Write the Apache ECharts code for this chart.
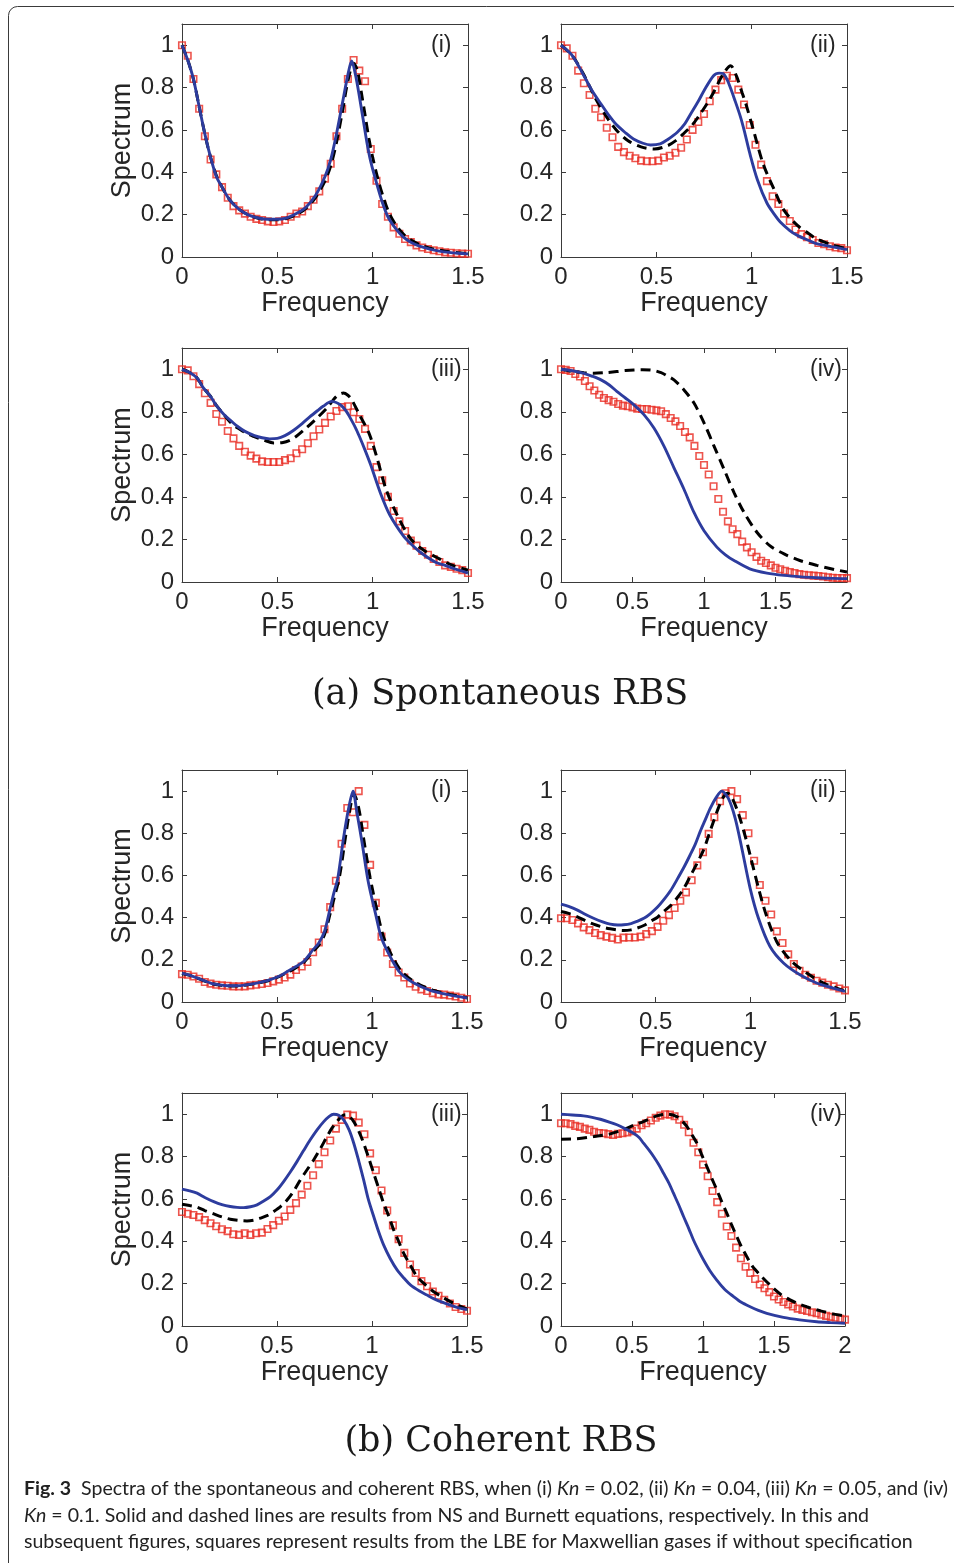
<!DOCTYPE html>
<html><head><meta charset="utf-8">
<script src="https://cdn.jsdelivr.net/npm/echarts@6/dist/echarts.min.js"></script>
<style>html,body{margin:0;padding:0;background:#fff;}#c{width:954px;height:1563px;}</style>
</head><body><div id="c"></div>
<script>
// ---------- data ----------
const panelLabels = ['(i)','(ii)','(iii)','(iv)','(i)','(ii)','(iii)','(iv)'];
const xTicks15 = [0,0.5,1,1.5];
const xTicks20 = [0,0.5,1,1.5,2];
const yTicks = [0,0.2,0.4,0.6,0.8,1];

const sqX15 = [0,0.03,0.06,0.09,0.12,0.15,0.18,0.21,0.24,0.27,0.3,0.33,0.36,0.39,0.42,0.45,0.48,0.51,0.54,0.57,0.6,0.63,0.66,0.69,0.72,0.75,0.78,0.81,0.84,0.87,0.9,0.93,0.96,0.99,1.02,1.05,1.08,1.11,1.14,1.17,1.2,1.23,1.26,1.29,1.32,1.35,1.38,1.41,1.44,1.47,1.5];
const sqX20 = [0,0.033,0.067,0.1,0.133,0.167,0.2,0.233,0.267,0.3,0.333,0.367,0.4,0.433,0.467,0.5,0.533,0.567,0.6,0.633,0.667,0.7,0.733,0.767,0.8,0.833,0.867,0.9,0.933,0.967,1,1.033,1.067,1.1,1.133,1.167,1.2,1.233,1.267,1.3,1.333,1.367,1.4,1.433,1.467,1.5,1.533,1.567,1.6,1.633,1.667,1.7,1.733,1.767,1.8,1.833,1.867,1.9,1.933,1.967,2];

// (a) Spontaneous RBS
const a1_lbe = [1.0,0.95,0.84,0.70,0.57,0.46,0.39,0.33,0.28,0.24,0.22,0.205,0.19,0.18,0.175,0.168,0.165,0.168,0.175,0.19,0.205,0.215,0.24,0.27,0.31,0.37,0.44,0.57,0.70,0.84,0.93,0.88,0.83,0.51,0.36,0.25,0.19,0.14,0.11,0.085,0.07,0.055,0.045,0.038,0.032,0.027,0.022,0.02,0.018,0.016,0.015];
const a1_ns = [[0,1],[0.03,0.93],[0.06,0.84],[0.09,0.71],[0.12,0.58],[0.15,0.47],[0.18,0.38],[0.21,0.33],[0.25,0.27],[0.3,0.225],[0.35,0.198],[0.4,0.184],[0.45,0.178],[0.5,0.178],[0.55,0.185],[0.6,0.205],[0.65,0.235],[0.7,0.29],[0.75,0.38],[0.78,0.46],[0.81,0.58],[0.84,0.72],[0.87,0.86],[0.89,0.925],[0.91,0.86],[0.93,0.76],[0.95,0.65],[0.97,0.54],[0.99,0.45],[1.02,0.35],[1.05,0.26],[1.08,0.19],[1.12,0.135],[1.16,0.095],[1.2,0.07],[1.25,0.05],[1.3,0.037],[1.35,0.028],[1.4,0.022],[1.45,0.018],[1.5,0.015]];
const a1_bu = [[0,1],[0.03,0.93],[0.06,0.84],[0.09,0.71],[0.12,0.58],[0.15,0.47],[0.18,0.385],[0.21,0.33],[0.25,0.27],[0.3,0.225],[0.35,0.198],[0.4,0.183],[0.45,0.176],[0.5,0.176],[0.55,0.183],[0.6,0.2],[0.65,0.23],[0.7,0.28],[0.75,0.36],[0.78,0.43],[0.81,0.54],[0.84,0.68],[0.87,0.83],[0.9,0.915],[0.92,0.88],[0.94,0.78],[0.96,0.67],[0.98,0.56],[1.0,0.47],[1.03,0.36],[1.06,0.27],[1.09,0.2],[1.13,0.14],[1.17,0.1],[1.21,0.075],[1.26,0.053],[1.3,0.042],[1.35,0.032],[1.4,0.025],[1.45,0.02],[1.5,0.016]];

const a2_lbe = [1.0,0.985,0.95,0.88,0.82,0.765,0.70,0.66,0.61,0.565,0.52,0.495,0.478,0.466,0.455,0.452,0.452,0.455,0.47,0.478,0.492,0.516,0.555,0.60,0.637,0.675,0.735,0.79,0.835,0.856,0.845,0.79,0.72,0.623,0.53,0.436,0.358,0.287,0.25,0.205,0.17,0.13,0.108,0.094,0.08,0.066,0.06,0.051,0.045,0.042,0.032];
const a2_ns = [[0,1],[0.06,0.95],[0.12,0.856],[0.16,0.79],[0.21,0.722],[0.25,0.67],[0.29,0.625],[0.34,0.585],[0.38,0.557],[0.43,0.537],[0.47,0.529],[0.52,0.534],[0.56,0.555],[0.61,0.589],[0.65,0.63],[0.68,0.675],[0.72,0.735],[0.75,0.785],[0.8,0.856],[0.83,0.868],[0.85,0.866],[0.87,0.84],[0.89,0.795],[0.91,0.745],[0.94,0.665],[0.96,0.6],[0.99,0.49],[1.03,0.365],[1.08,0.255],[1.12,0.2],[1.15,0.165],[1.2,0.125],[1.24,0.102],[1.3,0.078],[1.34,0.063],[1.4,0.052],[1.43,0.047],[1.5,0.035]];
const a2_bu = [[0,1],[0.06,0.95],[0.12,0.86],[0.18,0.75],[0.24,0.66],[0.29,0.6],[0.35,0.55],[0.42,0.52],[0.49,0.51],[0.56,0.526],[0.6,0.548],[0.64,0.58],[0.69,0.625],[0.73,0.675],[0.77,0.73],[0.8,0.777],[0.85,0.863],[0.89,0.903],[0.92,0.855],[0.95,0.775],[0.97,0.722],[1.01,0.597],[1.06,0.44],[1.12,0.314],[1.17,0.22],[1.24,0.149],[1.3,0.11],[1.34,0.086],[1.43,0.055],[1.5,0.039]];

const a3_lbe = [1.0,0.995,0.967,0.93,0.887,0.842,0.79,0.753,0.71,0.675,0.64,0.612,0.594,0.58,0.567,0.564,0.564,0.564,0.573,0.582,0.605,0.624,0.652,0.685,0.717,0.748,0.778,0.804,0.822,0.826,0.798,0.766,0.72,0.64,0.54,0.478,0.4,0.334,0.285,0.24,0.195,0.171,0.146,0.128,0.108,0.094,0.078,0.071,0.062,0.056,0.042];
const a3_ns = [[0,1],[0.04,0.985],[0.08,0.958],[0.11,0.915],[0.15,0.872],[0.18,0.83],[0.22,0.787],[0.26,0.755],[0.29,0.732],[0.33,0.708],[0.38,0.688],[0.42,0.678],[0.46,0.673],[0.5,0.675],[0.54,0.688],[0.58,0.71],[0.63,0.745],[0.67,0.776],[0.71,0.805],[0.74,0.826],[0.785,0.849],[0.83,0.833],[0.86,0.805],[0.88,0.775],[0.91,0.725],[0.93,0.685],[0.96,0.62],[0.99,0.55],[1.04,0.42],[1.09,0.315],[1.16,0.218],[1.2,0.18],[1.25,0.14],[1.33,0.093],[1.38,0.078],[1.42,0.065],[1.5,0.042]];
const a3_bu = [[0,1],[0.04,0.985],[0.08,0.958],[0.11,0.915],[0.15,0.872],[0.18,0.83],[0.22,0.787],[0.26,0.745],[0.305,0.717],[0.34,0.698],[0.375,0.685],[0.43,0.667],[0.48,0.654],[0.53,0.656],[0.57,0.668],[0.6,0.685],[0.64,0.715],[0.69,0.755],[0.76,0.818],[0.81,0.872],[0.846,0.888],[0.87,0.878],[0.89,0.857],[0.93,0.787],[0.98,0.701],[1.02,0.592],[1.07,0.436],[1.13,0.312],[1.2,0.202],[1.27,0.148],[1.35,0.109],[1.42,0.078],[1.5,0.055]];

const a4_lbe = [1.0,0.997,0.992,0.978,0.966,0.945,0.92,0.9,0.88,0.865,0.855,0.847,0.837,0.829,0.826,0.821,0.815,0.813,0.813,0.81,0.807,0.803,0.789,0.771,0.755,0.733,0.705,0.68,0.64,0.592,0.55,0.505,0.45,0.39,0.33,0.285,0.248,0.225,0.19,0.163,0.14,0.118,0.1,0.089,0.078,0.067,0.06,0.053,0.047,0.042,0.037,0.034,0.032,0.03,0.028,0.026,0.022,0.02,0.019,0.019,0.018];
const a4_ns = [[0,1],[0.08,0.993],[0.16,0.981],[0.22,0.967],[0.28,0.95],[0.34,0.925],[0.39,0.896],[0.45,0.865],[0.51,0.833],[0.58,0.787],[0.65,0.724],[0.72,0.639],[0.79,0.537],[0.86,0.436],[0.93,0.327],[1.0,0.241],[1.09,0.164],[1.15,0.128],[1.21,0.101],[1.32,0.062],[1.44,0.042],[1.56,0.031],[1.68,0.024],[1.79,0.02],[1.9,0.017],[2,0.016]];
const a4_bu = [[0,1],[0.08,0.99],[0.16,0.984],[0.23,0.981],[0.31,0.984],[0.39,0.989],[0.45,0.994],[0.51,0.997],[0.57,0.998],[0.625,0.997],[0.7,0.984],[0.74,0.97],[0.79,0.95],[0.86,0.903],[0.93,0.841],[1.0,0.748],[1.07,0.639],[1.14,0.53],[1.21,0.42],[1.28,0.327],[1.37,0.234],[1.46,0.171],[1.56,0.132],[1.67,0.101],[1.79,0.078],[1.91,0.059],[2,0.047]];

// (b) Coherent RBS
const b1_lbe = [0.132,0.129,0.121,0.11,0.095,0.087,0.082,0.079,0.077,0.074,0.074,0.074,0.079,0.082,0.085,0.09,0.098,0.106,0.116,0.13,0.152,0.168,0.19,0.236,0.282,0.345,0.45,0.575,0.75,0.92,0.9,1.0,0.84,0.65,0.47,0.31,0.235,0.18,0.14,0.116,0.088,0.072,0.06,0.052,0.042,0.036,0.035,0.031,0.026,0.02,0.014];
const b1_ns = [[0,0.137],[0.04,0.127],[0.08,0.114],[0.15,0.09],[0.2,0.081],[0.24,0.077],[0.29,0.077],[0.33,0.08],[0.38,0.087],[0.42,0.095],[0.465,0.106],[0.51,0.122],[0.55,0.142],[0.6,0.168],[0.64,0.192],[0.69,0.248],[0.72,0.28],[0.75,0.334],[0.78,0.445],[0.8,0.52],[0.82,0.587],[0.85,0.776],[0.877,0.918],[0.9,1.0],[0.92,0.902],[0.947,0.76],[0.98,0.571],[1.02,0.413],[1.05,0.303],[1.1,0.208],[1.15,0.137],[1.22,0.09],[1.31,0.054],[1.4,0.035],[1.5,0.019]];
const b1_bu = [[0,0.135],[0.04,0.126],[0.08,0.113],[0.15,0.089],[0.2,0.08],[0.24,0.076],[0.29,0.076],[0.33,0.079],[0.38,0.086],[0.42,0.094],[0.465,0.104],[0.51,0.12],[0.55,0.138],[0.6,0.163],[0.64,0.187],[0.69,0.24],[0.72,0.27],[0.75,0.32],[0.78,0.42],[0.8,0.49],[0.83,0.6],[0.86,0.78],[0.885,0.92],[0.905,0.985],[0.93,0.92],[0.955,0.78],[0.99,0.59],[1.03,0.42],[1.06,0.31],[1.11,0.21],[1.16,0.14],[1.23,0.092],[1.32,0.056],[1.41,0.036],[1.5,0.02]];

const b2_lbe = [0.397,0.397,0.389,0.373,0.354,0.341,0.327,0.317,0.31,0.304,0.296,0.305,0.306,0.306,0.31,0.322,0.336,0.356,0.385,0.412,0.446,0.48,0.52,0.577,0.648,0.71,0.797,0.876,0.952,0.99,1.0,0.962,0.886,0.8,0.67,0.555,0.48,0.415,0.335,0.28,0.226,0.18,0.148,0.129,0.115,0.101,0.092,0.082,0.074,0.064,0.055];
const b2_ns = [[0,0.464],[0.04,0.453],[0.084,0.437],[0.13,0.415],[0.172,0.397],[0.22,0.38],[0.26,0.369],[0.3,0.365],[0.331,0.366],[0.37,0.372],[0.401,0.382],[0.44,0.398],[0.471,0.418],[0.51,0.45],[0.542,0.484],[0.58,0.53],[0.612,0.579],[0.65,0.64],[0.682,0.697],[0.71,0.75],[0.735,0.808],[0.76,0.86],[0.788,0.918],[0.82,0.97],[0.849,1.0],[0.884,0.965],[0.92,0.871],[0.955,0.729],[0.999,0.539],[1.043,0.397],[1.104,0.263],[1.175,0.185],[1.262,0.129],[1.35,0.09],[1.438,0.066],[1.5,0.05]];
const b2_bu = [[0,0.429],[0.04,0.42],[0.084,0.405],[0.13,0.385],[0.172,0.369],[0.22,0.355],[0.26,0.347],[0.3,0.341],[0.331,0.339],[0.37,0.342],[0.401,0.35],[0.44,0.364],[0.471,0.382],[0.51,0.402],[0.542,0.429],[0.58,0.458],[0.612,0.492],[0.65,0.54],[0.682,0.595],[0.72,0.66],[0.753,0.721],[0.78,0.79],[0.805,0.855],[0.84,0.94],[0.867,0.985],[0.88,0.99],[0.902,0.97],[0.937,0.894],[0.981,0.76],[1.025,0.603],[1.078,0.429],[1.139,0.287],[1.21,0.2],[1.298,0.137],[1.386,0.09],[1.45,0.068],[1.5,0.052]];

const b3_lbe = [0.538,0.53,0.524,0.514,0.5,0.485,0.471,0.457,0.448,0.433,0.43,0.438,0.43,0.438,0.441,0.458,0.476,0.497,0.517,0.548,0.58,0.62,0.662,0.712,0.764,0.82,0.876,0.932,0.973,0.998,0.993,0.96,0.905,0.815,0.735,0.64,0.545,0.475,0.41,0.345,0.29,0.25,0.212,0.188,0.163,0.143,0.124,0.106,0.09,0.08,0.072];
const b3_ns = [[0,0.646],[0.04,0.638],[0.079,0.627],[0.12,0.607],[0.167,0.587],[0.21,0.573],[0.254,0.564],[0.29,0.56],[0.325,0.559],[0.36,0.563],[0.395,0.572],[0.43,0.59],[0.465,0.611],[0.5,0.642],[0.535,0.682],[0.57,0.727],[0.605,0.776],[0.64,0.828],[0.675,0.879],[0.71,0.925],[0.746,0.965],[0.775,0.99],[0.798,1.0],[0.825,0.995],[0.851,0.973],[0.88,0.925],[0.904,0.863],[0.93,0.78],[0.956,0.69],[0.98,0.6],[1.009,0.517],[1.035,0.445],[1.061,0.383],[1.095,0.32],[1.132,0.265],[1.17,0.224],[1.202,0.194],[1.25,0.165],[1.289,0.146],[1.33,0.127],[1.377,0.11],[1.447,0.088],[1.5,0.077]];
const b3_bu = [[0,0.575],[0.04,0.569],[0.079,0.561],[0.12,0.545],[0.167,0.529],[0.21,0.515],[0.254,0.504],[0.3,0.498],[0.342,0.496],[0.38,0.5],[0.412,0.509],[0.45,0.522],[0.482,0.54],[0.52,0.565],[0.553,0.595],[0.59,0.64],[0.623,0.69],[0.66,0.74],[0.693,0.784],[0.73,0.84],[0.763,0.894],[0.79,0.935],[0.816,0.965],[0.84,0.99],[0.86,0.997],[0.88,0.99],[0.904,0.965],[0.93,0.92],[0.956,0.863],[0.98,0.8],[1.009,0.721],[1.035,0.65],[1.061,0.58],[1.09,0.515],[1.114,0.454],[1.14,0.4],[1.167,0.343],[1.2,0.29],[1.237,0.233],[1.28,0.195],[1.325,0.162],[1.37,0.137],[1.412,0.115],[1.46,0.095],[1.5,0.08]];

const b4_lbe = [0.957,0.957,0.953,0.945,0.94,0.932,0.926,0.917,0.911,0.91,0.906,0.902,0.907,0.91,0.914,0.92,0.932,0.948,0.957,0.97,0.983,0.993,1.0,0.998,0.99,0.974,0.95,0.915,0.865,0.82,0.762,0.707,0.637,0.585,0.53,0.47,0.425,0.37,0.32,0.28,0.25,0.222,0.196,0.178,0.16,0.139,0.125,0.113,0.102,0.092,0.082,0.076,0.071,0.065,0.06,0.053,0.048,0.043,0.039,0.034,0.03];
const b4_ns = [[0,1.0],[0.08,0.996],[0.159,0.992],[0.22,0.985],[0.277,0.976],[0.34,0.963],[0.394,0.95],[0.45,0.932],[0.511,0.91],[0.55,0.89],[0.581,0.863],[0.62,0.83],[0.652,0.8],[0.69,0.76],[0.722,0.721],[0.76,0.675],[0.792,0.627],[0.83,0.57],[0.863,0.517],[0.9,0.46],[0.933,0.406],[0.97,0.355],[1.004,0.312],[1.05,0.26],[1.097,0.217],[1.15,0.175],[1.215,0.139],[1.27,0.112],[1.332,0.091],[1.39,0.074],[1.449,0.06],[1.566,0.041],[1.68,0.029],[1.801,0.02],[1.9,0.016],[2,0.013]];
const b4_bu = [[0,0.882],[0.113,0.884],[0.23,0.894],[0.347,0.907],[0.41,0.92],[0.464,0.934],[0.52,0.95],[0.581,0.965],[0.63,0.98],[0.675,0.992],[0.746,1.0],[0.816,0.989],[0.85,0.97],[0.886,0.942],[0.92,0.905],[0.957,0.863],[0.99,0.81],[1.027,0.753],[1.06,0.7],[1.097,0.643],[1.13,0.59],[1.168,0.532],[1.2,0.48],[1.238,0.422],[1.27,0.375],[1.308,0.328],[1.35,0.28],[1.402,0.241],[1.45,0.208],[1.496,0.178],[1.55,0.148],[1.613,0.123],[1.67,0.105],[1.73,0.091],[1.79,0.078],[1.848,0.068],[1.92,0.056],[2,0.047]];

const titleA = '(a) Spontaneous RBS';
const titleB = '(b) Coherent RBS';
const captionLines = [
  [['b','Fig. 3'],['n','  Spectra of the spontaneous and coherent RBS, when (i) '],['i','Kn'],['n',' = 0.02, (ii) '],['i','Kn'],['n',' = 0.04, (iii) '],['i','Kn'],['n',' = 0.05, and (iv)']],
  [['i','Kn'],['n',' = 0.1. Solid and dashed lines are results from NS and Burnett equations, respectively. In this and']],
  [['n','subsequent figures, squares represent results from the LBE for Maxwellian gases if without specification']]
];

// ---------- layout / style ----------
const panels = [
  {grid:{left:182, top:24, width:286, height:233}, xMax:1.5, sqX:sqX15, lbe:a1_lbe, ns:a1_ns, bu:a1_bu},
  {grid:{left:561, top:24, width:286, height:233}, xMax:1.5, sqX:sqX15, lbe:a2_lbe, ns:a2_ns, bu:a2_bu},
  {grid:{left:182, top:348, width:286, height:234}, xMax:1.5, sqX:sqX15, lbe:a3_lbe, ns:a3_ns, bu:a3_bu},
  {grid:{left:561, top:348, width:286, height:234}, xMax:2, sqX:sqX20, lbe:a4_lbe, ns:a4_ns, bu:a4_bu},
  {grid:{left:182, top:770, width:285, height:232}, xMax:1.5, sqX:sqX15, lbe:b1_lbe, ns:b1_ns, bu:b1_bu},
  {grid:{left:561, top:770, width:284, height:232}, xMax:1.5, sqX:sqX15, lbe:b2_lbe, ns:b2_ns, bu:b2_bu},
  {grid:{left:182, top:1093, width:285, height:233}, xMax:1.5, sqX:sqX15, lbe:b3_lbe, ns:b3_ns, bu:b3_bu},
  {grid:{left:561, top:1093, width:284, height:233}, xMax:2, sqX:sqX20, lbe:b4_lbe, ns:b4_ns, bu:b4_bu}
];
const YMAX = 1.1;
const AX = '#3a3a3a', TXT = '#262626', FONT = 'Liberation Sans, Arial, sans-serif';
const BLUE = '#2d3c9e', RED = '#e82a22';

const grid = [], xAxis = [], yAxis = [], series = [], graphic = [];
panels.forEach((p, g) => {
  grid.push(Object.assign({containLabel:false}, p.grid));
  const axLine = {show:true, onZero:false, lineStyle:{color:AX, width:1}};
  const axTick = {show:true, inside:true, length:5, lineStyle:{color:AX, width:1}};
  xAxis.push({gridIndex:g, type:'value', min:0, max:p.xMax, interval:0.5, position:'bottom',
    axisLine:axLine, axisTick:axTick, splitLine:{show:false},
    axisLabel:{fontSize:24, color:TXT, fontFamily:FONT, margin:8},
    name:'Frequency', nameLocation:'middle', nameGap:30,
    nameTextStyle:{fontSize:27, color:TXT, fontFamily:FONT}});
  xAxis.push({gridIndex:g, type:'value', min:0, max:p.xMax, interval:0.5, position:'top',
    axisLine:axLine, axisTick:axTick, splitLine:{show:false}, axisLabel:{show:false}});
  yAxis.push({gridIndex:g, type:'value', min:0, max:YMAX, interval:0.2, position:'left',
    axisLine:axLine, axisTick:Object.assign({customValues:yTicks}, axTick), splitLine:{show:false},
    axisLabel:{customValues:yTicks, fontSize:24, color:TXT, fontFamily:FONT, margin:8},
    name: g % 2 === 0 ? 'Spectrum' : '', nameLocation:'middle', nameGap:46,
    nameTextStyle:{fontSize:27, color:TXT, fontFamily:FONT}});
  yAxis.push({gridIndex:g, type:'value', min:0, max:YMAX, interval:0.2, position:'right',
    axisLine:axLine, axisTick:Object.assign({customValues:yTicks}, axTick), splitLine:{show:false},
    axisLabel:{show:false}});
  const sq = p.lbe.map((v, i) => [p.sqX[i], v]).filter(d => d[0] !== undefined);
  series.push({type:'scatter', xAxisIndex:2*g, yAxisIndex:2*g, data:sq, symbol:'rect', symbolSize:6.5, clip:false,
    itemStyle:{color:'rgba(255,255,255,0)', borderColor:RED, borderWidth:1.6}, silent:true, z:2});
  series.push({type:'line', xAxisIndex:2*g, yAxisIndex:2*g, data:p.bu, showSymbol:false, symbol:'none', smooth:0.3,
    lineStyle:{color:'#000', width:3, type:[10,6]}, z:3});
  series.push({type:'line', xAxisIndex:2*g, yAxisIndex:2*g, data:p.ns, showSymbol:false, symbol:'none', smooth:0.3,
    lineStyle:{color:BLUE, width:2.9}, z:4});
  graphic.push({type:'text', x:p.grid.left + 249, y:p.grid.top + p.grid.height*(YMAX-1)/YMAX,
    style:{text:panelLabels[g], fontSize:23, fontFamily:FONT, fill:TXT, textAlign:'left', verticalAlign:'middle'}});
});

// frame
graphic.push({type:'rect', shape:{x:8.5, y:6.5, width:1000, height:1700, r:[9,0,0,0]},
  style:{fill:'none', stroke:'#3a3a3a', lineWidth:1}, z:-1});
// sub-figure titles
graphic.push({type:'text', x:500, y:695, style:{text:titleA, fontFamily:'DejaVu Serif', fontSize:35, fill:'#1a1a1a', textAlign:'center', verticalAlign:'middle'}});
graphic.push({type:'text', x:501, y:1442, style:{text:titleB, fontFamily:'DejaVu Serif', fontSize:35, fill:'#1a1a1a', textAlign:'center', verticalAlign:'middle'}});

// caption
const CF = 'Lato, "Open Sans", sans-serif', CS = 19;
const capStyles = {
  n:{fontFamily:CF, fontSize:CS, fontWeight:'normal', fontStyle:'normal', fill:'#222'},
  b:{fontFamily:CF, fontSize:CS, fontWeight:'bold', fontStyle:'normal', fill:'#222'},
  i:{fontFamily:CF, fontSize:CS, fontWeight:'normal', fontStyle:'italic', fill:'#222'}
};
const ctx = document.createElement('canvas').getContext('2d');
function segWidth(s, t){ const st = capStyles[s]; ctx.font = st.fontStyle+' '+st.fontWeight+' '+st.fontSize+'px '+st.fontFamily; return ctx.measureText(t).width; }
const w1 = captionLines[0].reduce((a, sg) => a + segWidth(sg[0], sg[1]), 0);
const capScale = 924 / w1;
const capY = [1489, 1516, 1542];
captionLines.forEach((ln, k) => {
  const txt = ln.map(sg => '{' + sg[0] + '|' + sg[1] + '}').join('');
  graphic.push({type:'text', x:24, y:capY[k], scaleX:capScale, scaleY:1, originX:0, originY:0,
    style:{text:txt, rich:capStyles, fontFamily:CF, fontSize:CS, fill:'#222', textAlign:'left', verticalAlign:'middle'}});
});

const chart = echarts.init(document.getElementById('c'), null, {renderer:'canvas'});
chart.setOption({animation:false, backgroundColor:'#fff', grid, xAxis, yAxis, series, graphic});
</script></body></html>
